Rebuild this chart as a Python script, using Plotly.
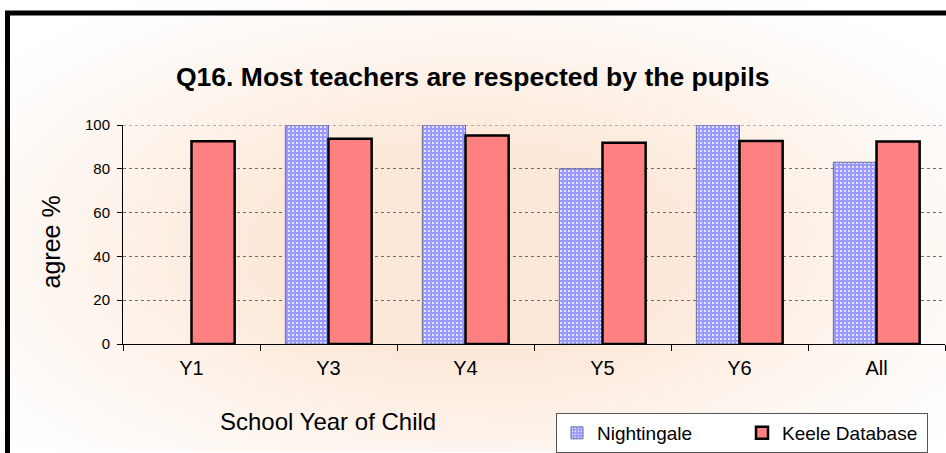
import base64, struct, zlib
import numpy as np
import plotly.graph_objects as go

# ---- data ----
categories = ["Y1", "Y3", "Y4", "Y5", "Y6", "All"]
nightingale = [None, 100, 100, 80, 100, 83]
keele = [92.6, 93.7, 95.2, 91.9, 92.7, 92.5]
y_ticks = [0, 20, 40, 60, 80, 100]

W, H = 946, 453
L, R, T, B = 123, 945, 125, 345  # plot area pixel box
PW, PH = R - L, B - T


def px_x(px):
    return (px - L) / PW


def px_y(py):
    return (B - py) / PH


# ---- radial peach gradient background as inline PNG ----
def gradient_png(w, h):
    ys, xs = np.mgrid[0:h, 0:w].astype(float)
    sx, sy = W / w, H / h
    X, Y = xs * sx, ys * sy
    r = np.sqrt(((X - 470) / 600) ** 2 + ((Y - 250) / 300) ** 2)
    f = np.clip(1 - r, 0, 1)
    f = np.clip(f * 1.5, 0, 1) ** 1.2
    white = np.array([255, 255, 255], float)
    peach = np.array([252, 232, 216], float)
    img = white[None, None, :] + (peach - white)[None, None, :] * f[..., None]
    img = img.astype(np.uint8)
    raw = b"".join(b"\x00" + img[i].tobytes() for i in range(h))

    def chunk(tag, data):
        c = struct.pack(">I", len(data)) + tag + data
        return c + struct.pack(">I", zlib.crc32(tag + data) & 0xFFFFFFFF)

    png = b"\x89PNG\r\n\x1a\n"
    png += chunk(b"IHDR", struct.pack(">IIBBBBB", w, h, 8, 2, 0, 0, 0))
    png += chunk(b"IDAT", zlib.compress(raw, 9))
    png += chunk(b"IEND", b"")
    return "data:image/png;base64," + base64.b64encode(png).decode()


bg_src = gradient_png(W // 2, H // 2)

FONT = "Liberation Sans, Arial, sans-serif"

fig = go.Figure()
fig.add_trace(go.Bar(
    name="Nightingale", x=categories, y=nightingale,
    marker=dict(
        color="#9999FF",
        line=dict(color="#6B6B9A", width=1),
        pattern=dict(shape=".", fgcolor="#FFFFFF", bgcolor="#9999FF",
                     size=4, solidity=0.18, fillmode="replace"),
    ),
))
fig.add_trace(go.Bar(
    name="Keele Database", x=categories, y=keele,
    marker=dict(color="#FF8080", line=dict(color="#000000", width=2.5)),
))

fig.update_layout(
    width=W, height=H,
    margin=dict(l=L, r=W - R, t=T, b=H - B, pad=0),
    paper_bgcolor="white", plot_bgcolor="white",
    barmode="group", bargap=0.37, bargroupgap=0,
    font=dict(family=FONT, color="black"),
    showlegend=True,
    legend=dict(
        orientation="h", x=px_x(556), y=px_y(413), xanchor="left", yanchor="top",
        bgcolor="white", bordercolor="#555555", borderwidth=1,
        font=dict(size=19, family=FONT), itemwidth=30,
        entrywidth=140, entrywidthmode="pixels",
        traceorder="normal", tracegroupgap=0,
    ),
    xaxis=dict(
        type="category", tickson="boundaries", ticks="outside", ticklen=6,
        tickcolor="black", showline=True, linecolor="black", linewidth=1,
        tickfont=dict(size=20, family=FONT), showgrid=False, fixedrange=True,
        ticklabelstandoff=6,
    ),
    yaxis=dict(
        range=[0, 100], tickvals=y_ticks, ticks="outside", ticklen=5,
        tickcolor="black", showline=True, linecolor="black", linewidth=1,
        tickfont=dict(size=15, family=FONT), showgrid=True,
        gridcolor="#6E6E6E", griddash="dot", gridwidth=1, zeroline=False,
        ticklabelstandoff=4, fixedrange=True,
    ),
    images=[dict(
        source=bg_src, xref="paper", yref="paper",
        x=px_x(0), y=px_y(0), sizex=W / PW, sizey=H / PH,
        xanchor="left", yanchor="top", sizing="stretch", layer="below",
    )],
    shapes=[
        dict(type="line", xref="paper", yref="y", x0=0, x1=1,
             y0=y_ticks[-1], y1=y_ticks[-1], layer="below",
             line=dict(color="#6E6E6E", width=1, dash="dot")),
        dict(type="rect", xref="paper", yref="paper",
             x0=px_x(7.5), x1=px_x(990), y0=px_y(12.5), y1=px_y(500),
             line=dict(color="black", width=5), fillcolor="rgba(0,0,0,0)"),
    ],
    annotations=[
        dict(text="<b>Q16. Most teachers are respected by the pupils</b>",
             xref="paper", yref="paper", x=px_x(472.5), y=px_y(77),
             xanchor="center", yanchor="middle", showarrow=False,
             font=dict(size=26.5, family=FONT, color="black")),
        dict(text="agree %", xref="paper", yref="paper",
             x=px_x(51), y=px_y(243), xanchor="center", yanchor="middle",
             textangle=-90, showarrow=False,
             font=dict(size=25, family=FONT, color="black")),
        dict(text="School Year of Child", xref="paper", yref="paper",
             x=px_x(328), y=px_y(423), xanchor="center", yanchor="middle",
             showarrow=False, font=dict(size=24, family=FONT, color="black")),
    ],
)

fig.write_html("out.html", config={"displayModeBar": False},
               post_script="document.body.style.margin='0px';")
